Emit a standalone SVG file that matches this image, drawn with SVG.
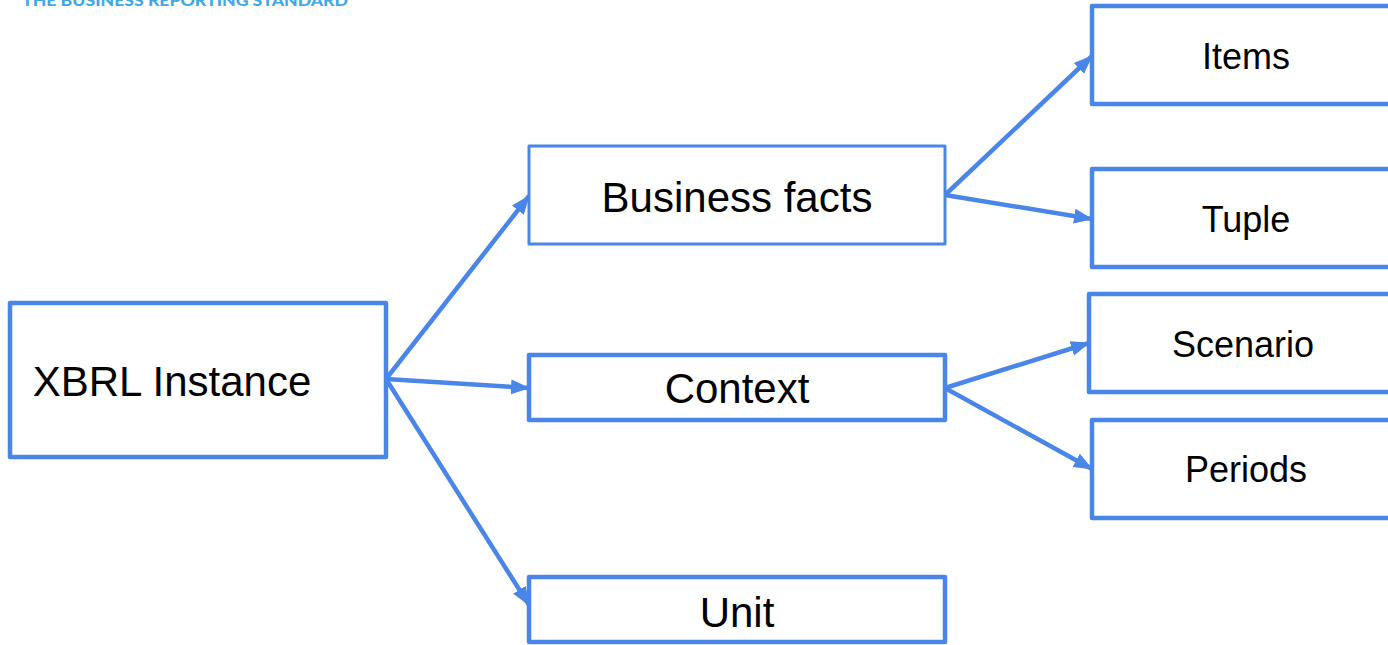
<svg xmlns="http://www.w3.org/2000/svg" width="1388" height="645" viewBox="0 0 1388 645">
<style>
.box{fill:#fff;stroke:#4a86e8;stroke-width:4.5;stroke-linejoin:round}
.thin{stroke-width:3}
.lbl{font-family:"Liberation Sans",Arial,sans-serif;fill:#000;text-anchor:middle}
.conn line{stroke:#4a86e8;stroke-width:4.5;marker-end:url(#ah)}
</style>
<defs>
<marker id="ah" markerUnits="userSpaceOnUse" markerWidth="20" markerHeight="16" refX="18" refY="7.5" orient="auto" viewBox="0 0 20 15">
<path d="M0,0 L19,7.5 L0,15 Z" fill="#4a86e8"/>
</marker>
</defs>
<text x="22" y="5.5" font-family="Lato,'Open Sans',sans-serif" font-weight="900" font-size="15" fill="#3fa9e6" textLength="326" lengthAdjust="spacingAndGlyphs">THE BUSINESS REPORTING STANDARD</text>
<g class="conn">
<line x1="386" y1="379" x2="529" y2="196"/>
<line x1="386" y1="379" x2="529" y2="388"/>
<line x1="386" y1="379" x2="529" y2="605"/>
<line x1="945" y1="195" x2="1092" y2="56"/>
<line x1="945" y1="195" x2="1092" y2="219"/>
<line x1="945" y1="388" x2="1089" y2="343"/>
<line x1="945" y1="388" x2="1092" y2="469"/>
</g>
<g id="xbrl"><rect class="box" x="10" y="303" width="376" height="154"/><text class="lbl" x="172" y="396" font-size="42">XBRL Instance</text></g>
<g id="facts"><rect class="box thin" x="529" y="146" width="416" height="98"/><text class="lbl" x="737" y="212" font-size="42">Business facts</text></g>
<g id="context"><rect class="box" x="529" y="355" width="416" height="65"/><text class="lbl" x="737" y="403" font-size="42">Context</text></g>
<g id="unit"><rect class="box" x="529" y="577" width="416" height="65"/><text class="lbl" x="737" y="627" font-size="42">Unit</text></g>
<g id="items"><rect class="box" x="1092" y="6" width="300" height="98"/><text class="lbl" x="1246" y="69" font-size="36">Items</text></g>
<g id="tuple"><rect class="box" x="1092" y="169" width="300" height="98"/><text class="lbl" x="1246" y="232" font-size="36">Tuple</text></g>
<g id="scenario"><rect class="box" x="1089" y="294" width="303" height="98"/><text class="lbl" x="1243" y="357" font-size="36">Scenario</text></g>
<g id="periods"><rect class="box" x="1092" y="420" width="300" height="98"/><text class="lbl" x="1246" y="482" font-size="36">Periods</text></g>
</svg>
